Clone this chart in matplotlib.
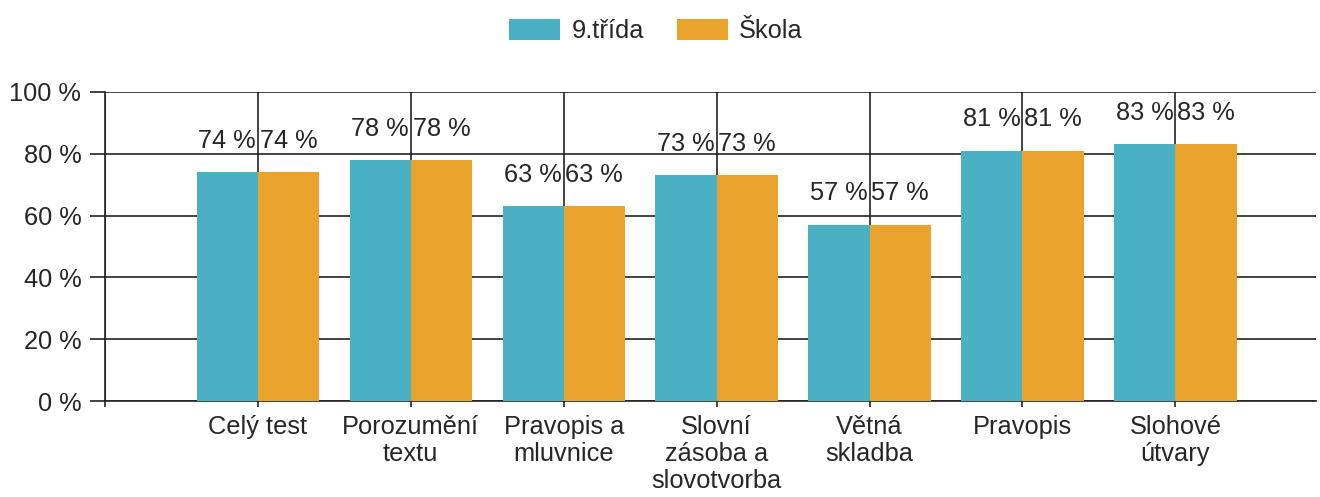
import numpy as np
import matplotlib
matplotlib.use("Agg")
import matplotlib.pyplot as plt

plt.rcParams['font.family'] = ['Liberation Sans', 'DejaVu Sans']

categories = ["Celý test", "Porozumění\ntextu", "Pravopis a\nmluvnice",
              "Slovní\nzásoba a\nslovotvorba", "Větná\nskladba", "Pravopis",
              "Slohové\nútvary"]
trida = [74, 78, 63, 73, 57, 81, 83]
skola = [74, 78, 63, 73, 57, 81, 83]
yticks = [0, 20, 40, 60, 80, 100]

c_trida = "#4AB1C4"
c_skola = "#E9A22B"
txt = "#262626"
line = "#222222"

fig = plt.figure(figsize=(13.2, 4.97), dpi=100)
ax = fig.add_axes([0.0795, 0.193, 0.9175, 0.622])

x = np.arange(len(categories))
w = 0.4
b1 = ax.bar(x - w / 2, trida, w, color=c_trida, label="9.třída", zorder=3)
b2 = ax.bar(x + w / 2, skola, w, color=c_skola, label="Škola", zorder=3)

for bars, vals in [(b1, trida), (b2, skola)]:
    for r, v in zip(bars, vals):
        ax.annotate(f"{v} %", (r.get_x() + r.get_width() / 2, v),
                    xytext=(0, 14), textcoords="offset points",
                    ha="center", va="bottom", fontsize=18.3, color=txt, zorder=4)

ax.set_xlim(-1, 6.92)
ax.set_ylim(0, 100)
ax.set_yticks(yticks)
ax.set_yticklabels([f"{t} %" for t in yticks])
ax.set_xticks(np.concatenate([[-1], x]))
ax.set_xticklabels([""] + categories, linespacing=1.15)

ax.grid(True, color=line, linewidth=1.2, zorder=0)
ax.set_axisbelow(True)
for s in ["top", "right"]:
    ax.spines[s].set_visible(False)
for s in ["left", "bottom"]:
    ax.spines[s].set_color(line)
    ax.spines[s].set_linewidth(1.2)

ax.tick_params(axis="y", length=11, width=1.2, color=line, pad=6,
               labelsize=18.3, labelcolor=txt)
ax.tick_params(axis="x", length=4, width=1.2, color=line, pad=6,
               labelsize=18.3, labelcolor=txt)

fig.legend(handles=[b1, b2], loc="upper center", bbox_to_anchor=(0.497, 1.008),
           ncol=2, frameon=False, fontsize=18.3, handlelength=2.0,
           handleheight=0.88, handletextpad=0.45, columnspacing=1.3,
           labelcolor=txt)

fig.savefig("out.png", dpi=100)
